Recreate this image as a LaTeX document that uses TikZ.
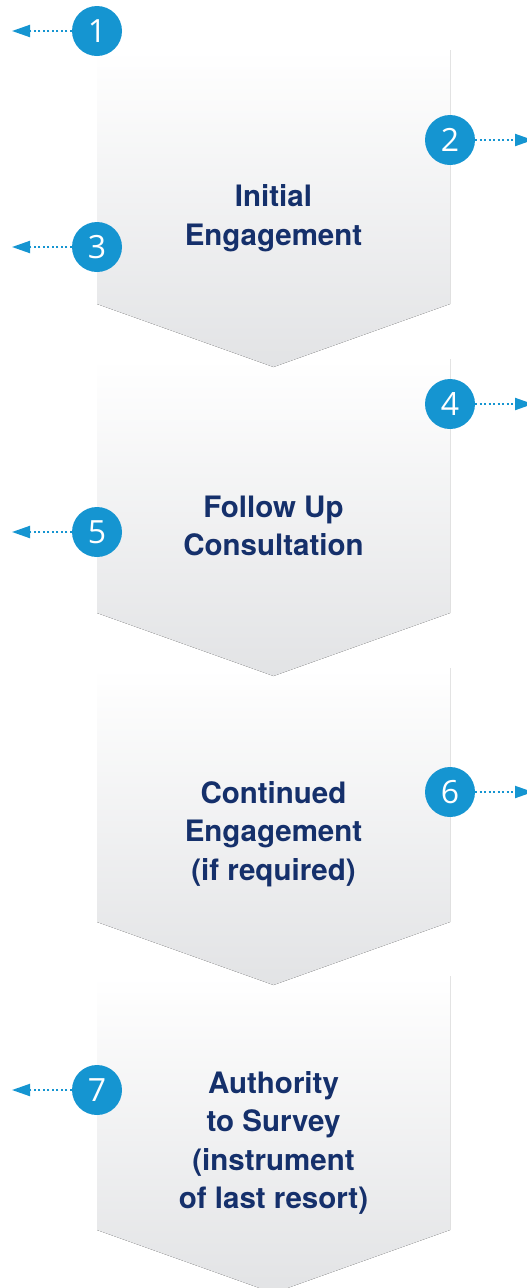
\documentclass[tikz,border=0pt]{standalone}
\usepackage{fontspec}
\setmainfont{TeX Gyre Heros}
\newfontfamily\numfont{Open Sans}
\usetikzlibrary{arrows.meta}
\definecolor{navy}{HTML}{15306B}
\definecolor{cblue}{HTML}{1595D1}
\definecolor{chgrey}{HTML}{E2E3E5}
\tikzset{
  chev/.style={top color=white, bottom color=chgrey, draw=none},
  numc/.style={circle, fill=cblue, minimum size=50pt, inner sep=0pt, text=white,
    font=\numfont\fontsize{32}{32}\selectfont},
  label/.style={align=center, text=navy, font=\bfseries\fontsize{29.5}{38.5}\selectfont},
  dotarrow/.style={cblue, line width=2pt, dash pattern=on 2pt off 2.5pt,
    -{Triangle[length=18pt,width=12pt]}}
}
\begin{document}
\begin{tikzpicture}[x=1pt,y=-1pt]
\useasboundingbox (0,0) rectangle (527,1288);
\clip (0,0) rectangle (527,1288);
% chevrons, drawn bottom first
\foreach \t in {976,668,359,50}{
  \fill[chev] (97,\t) -- (450,\t) -- (450,\t+254) -- (273.5,\t+317) -- (97,\t+254) -- cycle;
}
% labels
\node[label] (l1) at (273.5,218) {Initial\\Engagement};
\node[label] (l2) at (273.5,526) {Follow Up\\Consultation};
\node[label] (l3) at (273.5,834) {Continued\\Engagement\\(if required)};
\node[label] (l4) at (273.5,1143) {Authority\\to Survey\\(instrument\\of last resort)};
% numbered circles
\node[numc] (c1) at (97,31) {1};
\node[numc] (c2) at (450,140) {2};
\node[numc] (c3) at (97,247) {3};
\node[numc] (c4) at (450,404) {4};
\node[numc] (c5) at (97,532) {5};
\node[numc] (c6) at (450,792) {6};
\node[numc] (c7) at (97,1090) {7};
% arrow ends
\coordinate (a1) at (12,31);
\coordinate (a2) at (533,140);
\coordinate (a3) at (12,247);
\coordinate (a4) at (533,404);
\coordinate (a5) at (12,532);
\coordinate (a6) at (533,792);
\coordinate (a7) at (12,1090);
\foreach \i in {1,...,7}{
  \draw[dotarrow] (c\i) -- (a\i);
}
\end{tikzpicture}
\end{document}
